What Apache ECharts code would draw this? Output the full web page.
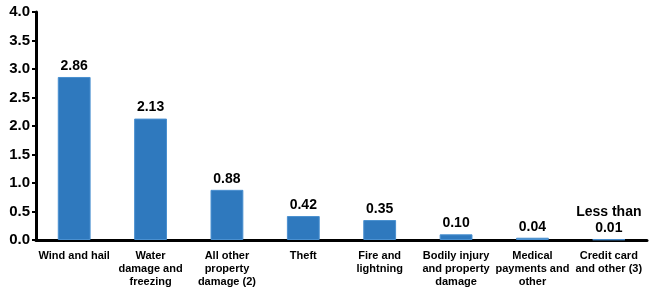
<!DOCTYPE html>
<html>
<head>
<meta charset="utf-8">
<script src="https://cdn.jsdelivr.net/npm/echarts@6/dist/echarts.min.js"></script>
<style>
  html, body { margin: 0; padding: 0; background: #fff; }
  #chart { width: 650px; height: 293px; }
</style>
</head>
<body>
<div id="chart"></div>
<script>
var categories = [
    'Wind and hail',
    'Water\ndamage and\nfreezing',
    'All other\nproperty\ndamage (2)',
    'Theft',
    'Fire and\nlightning',
    'Bodily injury\nand property\ndamage',
    'Medical\npayments and\nother',
    'Credit card\nand other (3)'
];
var values = [2.86, 2.13, 0.88, 0.42, 0.35, 0.10, 0.04, 0.01];
var valueLabels = ['2.86', '2.13', '0.88', '0.42', '0.35', '0.10', '0.04', 'Less than\n0.01'];

var chartDom = document.getElementById('chart');
var myChart = echarts.init(chartDom);
var font = 'Liberation Sans, Arial, sans-serif';

var option = {
    animation: false,
    grid: {
        left: 36,
        right: 3,
        top: 12,
        bottom: 53
    },
    xAxis: {
        type: 'category',
        data: categories,
        axisLine: { lineStyle: { color: '#000', width: 3 } },
        axisTick: { show: false },
        axisLabel: {
            interval: 0,
            color: '#000',
            fontFamily: font,
            fontWeight: 'bold',
            fontSize: 11,
            lineHeight: 13,
            margin: 9
        }
    },
    yAxis: {
        type: 'value',
        min: 0,
        max: 4,
        interval: 0.5,
        splitLine: { show: false },
        axisLine: { show: true, lineStyle: { color: '#000', width: 3 } },
        axisTick: { show: true, length: 4, lineStyle: { color: '#000', width: 2 } },
        axisLabel: {
            color: '#000',
            fontFamily: font,
            fontWeight: 'bold',
            fontSize: 15,
            margin: 6,
            formatter: function (v) { return v.toFixed(1); }
        }
    },
    series: [
        {
            type: 'bar',
            data: values,
            barWidth: '43%',
            itemStyle: {
                color: '#2F79BE',
                borderColor: '#4A90D0',
                borderWidth: 1
            },
            label: {
                show: true,
                position: 'top',
                distance: 3,
                color: '#000',
                fontFamily: font,
                fontWeight: 'bold',
                fontSize: 14,
                lineHeight: 16,
                formatter: function (p) { return valueLabels[p.dataIndex]; }
            }
        }
    ]
};
myChart.setOption(option);
</script>
</body>
</html>
